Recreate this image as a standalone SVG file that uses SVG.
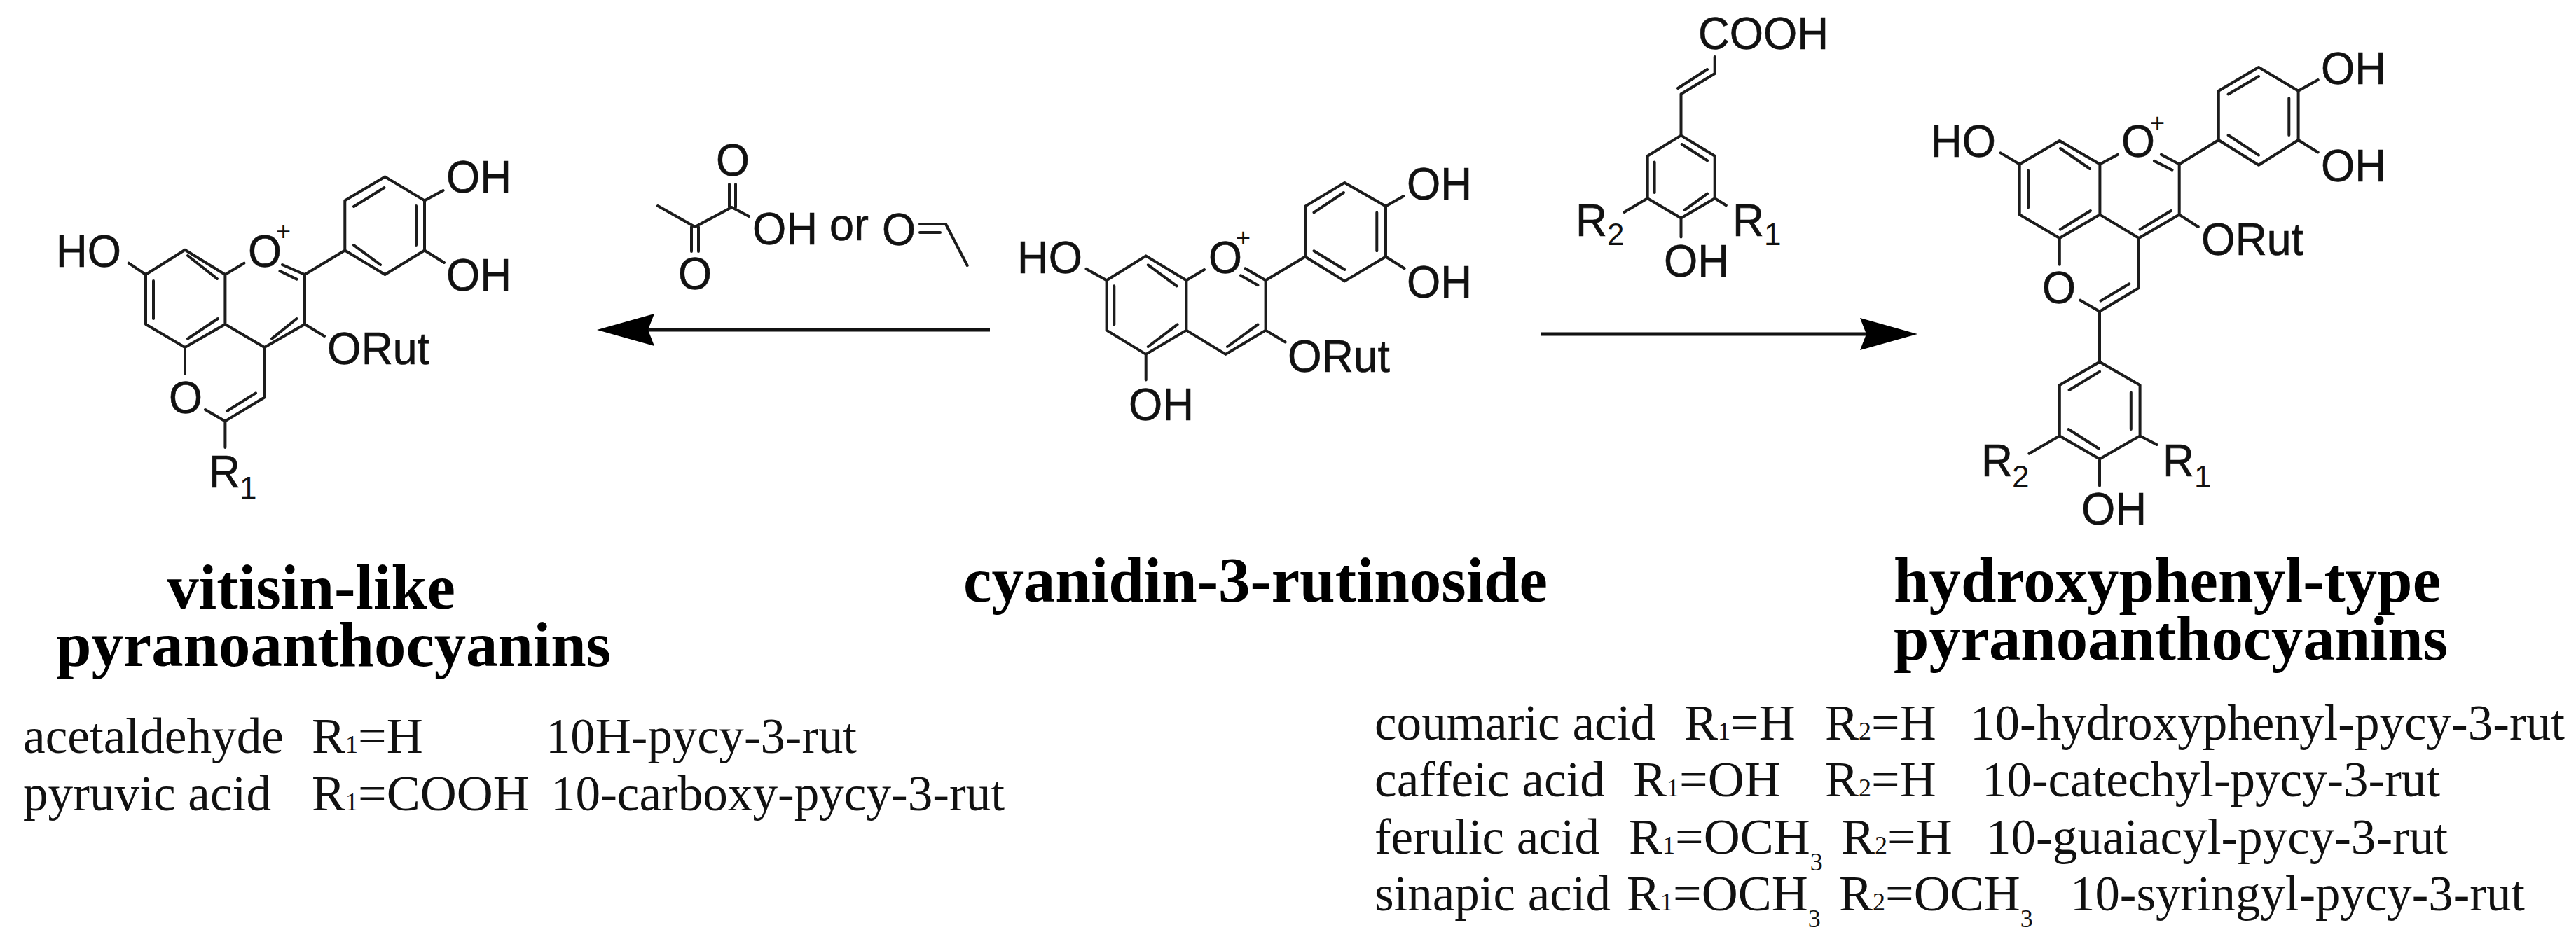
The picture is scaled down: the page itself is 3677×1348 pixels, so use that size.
<svg xmlns="http://www.w3.org/2000/svg" width="3677" height="1348" viewBox="0 0 3677 1348">
<style>
.b{fill:none;stroke:#1c1c1c;stroke-width:4;stroke-linecap:round;stroke-linejoin:round}
.s{font-family:"Liberation Sans",Arial,sans-serif;font-size:65px;fill:#111;stroke:#111;stroke-width:.6}
.n{font-family:"Liberation Sans",Arial,sans-serif;font-size:44px;fill:#111}
.p{font-family:"Liberation Sans",Arial,sans-serif;font-size:36px;fill:#111}
.t{font-family:"Liberation Serif","Times New Roman",serif;font-size:92px;font-weight:bold;fill:#000}
.l{font-family:"Liberation Serif","Times New Roman",serif;font-size:72px;fill:#111}
.i{font-size:36px}
.a{fill:none;stroke:#111;stroke-width:5}
</style>
<defs>
<marker id="head" viewBox="0 0 82 46" refX="9" refY="23" markerWidth="82" markerHeight="46" markerUnits="userSpaceOnUse" orient="auto"><path d="M0 0L82 23L0 46L9 23Z" fill="#000"/></marker>
</defs>
<rect width="3677" height="1348" fill="#fff"/>
<g id="connectors">
<line class="a" x1="1413" y1="471" x2="925" y2="471" marker-end="url(#head)"/>
<line class="a" x1="2200" y1="477" x2="2664" y2="477" marker-end="url(#head)"/>
</g>
<g id="vitisin-like">
<path class="b" d="M549.5 252.5L492.3 286.4V357.5L549.5 392L606 357.5V286.4ZM505 295L548.5 268M594 294V350M505 350L543 378M435 392L492.3 357.5M606 286.4L632.6 272M606 357.5L634 375M183.7 375.7L208 392V463L264 496L321.4 463V392L264 356.8L208 392M268 365L310 398M219 401V455M268 483.6L311 455M321.4 392L348.5 375.7M403 378L435 392V463L377.5 496L321.4 463M399.5 387L423.5 398.6M388 483.6L423.5 455M435 463L463 480M377.5 496V567.5L321.4 601.4L293 585M365 561.4L324 587M264 496V533.6M321.4 601.4V639"/>
<text class="s" x="80" y="381" textLength="93" lengthAdjust="spacingAndGlyphs">HO</text><text class="s" x="354" y="381" textLength="48" lengthAdjust="spacingAndGlyphs">O</text><text class="p" x="394" y="343">+</text>
<text class="s" x="637" y="275" textLength="93" lengthAdjust="spacingAndGlyphs">OH</text><text class="s" x="637" y="415" textLength="93" lengthAdjust="spacingAndGlyphs">OH</text><text class="s" x="467" y="520" textLength="146" lengthAdjust="spacingAndGlyphs">ORut</text><text class="s" x="241" y="590" textLength="48" lengthAdjust="spacingAndGlyphs">O</text>
<text class="s" x="298" y="696" textLength="45" lengthAdjust="spacingAndGlyphs">R</text><text class="n" x="342" y="712">1</text>
</g>
<g id="reagent-pyruvic">
<path class="b" d="M939 294L992 324L1044.5 296L1069 309M1041 263V296M1050 263V296M987 324V359M997 324V359M1313 320H1350L1380.7 379M1313 332H1342"/>
<text class="s" x="1022" y="251" textLength="48" lengthAdjust="spacingAndGlyphs">O</text><text class="s" x="968" y="413" textLength="48" lengthAdjust="spacingAndGlyphs">O</text><text class="s" x="1074" y="349" textLength="93" lengthAdjust="spacingAndGlyphs">OH</text><text class="s" x="1184" y="343" textLength="56" lengthAdjust="spacingAndGlyphs">or</text><text class="s" x="1259" y="350" textLength="48" lengthAdjust="spacingAndGlyphs">O</text>
</g>
<g id="cyanidin">
<path class="b" d="M1919.4 260.9L1863 294.6V366.5L1919.4 401.4L1978 366.5V294.6ZM1875.5 303.4L1918 275M1965.3 303.4V358.3M1875.5 358.3L1919.4 385M1806.6 400.3L1863 366.5M1978 294.6L2003.6 280M1978 366.5L2004.6 383.3M1550.5 383.9L1579.6 400.3V471.6L1635.7 505.9L1693.4 471.6V400.3L1635.7 365.4L1579.6 400.3M1638.8 378.3L1679.6 408.3M1590.3 408.3V463.4M1638.8 495L1680.6 463.4M1693.4 400.3L1719 385M1777.5 383.3L1806.6 400.3V471.6L1749.5 505.9L1693.4 471.6M1771 393.3L1795.4 407.3M1752 495L1795.4 463.4M1806.6 471.6L1834.7 488.5M1635.7 505.9V542.6"/>
<text class="s" x="1452" y="390" textLength="93" lengthAdjust="spacingAndGlyphs">HO</text><text class="s" x="1725" y="390" textLength="48" lengthAdjust="spacingAndGlyphs">O</text><text class="p" x="1764" y="352">+</text>
<text class="s" x="2008" y="285" textLength="93" lengthAdjust="spacingAndGlyphs">OH</text><text class="s" x="2008" y="425" textLength="93" lengthAdjust="spacingAndGlyphs">OH</text><text class="s" x="1838" y="531" textLength="146" lengthAdjust="spacingAndGlyphs">ORut</text><text class="s" x="1611" y="600" textLength="93" lengthAdjust="spacingAndGlyphs">OH</text>
</g>
<g id="reagent-cinnamic">
<path class="b" d="M2447.7 81V105L2399.5 134.3V193.4L2447.7 222.7V283.3L2399.5 311.5L2351.7 283.3V222.7L2399.5 193.4M2437 99L2395 126M2400.7 206L2437 229.3M2361.6 231.6V275M2404.5 300L2437 276.7M2351.7 283.3L2318.4 303M2447.7 283.3L2463.8 293.3M2399.5 311.5V338.4"/>
<text class="s" x="2424" y="70" textLength="186" lengthAdjust="spacingAndGlyphs">COOH</text><text class="s" x="2249" y="337" textLength="45" lengthAdjust="spacingAndGlyphs">R</text><text class="n" x="2294" y="350">2</text><text class="s" x="2473" y="337" textLength="45" lengthAdjust="spacingAndGlyphs">R</text><text class="n" x="2518" y="350">1</text><text class="s" x="2375" y="395" textLength="93" lengthAdjust="spacingAndGlyphs">OH</text>
</g>
<g id="hydroxyphenyl-type">
<path class="b" d="M3224 96L3166.8 129.8V200L3224 235.8L3280.6 200V129.8ZM3180.6 134.4L3224 109M3267.3 140.3V193M3180.6 193L3224 221.6M3110.7 234.5L3166.8 200M3280.6 129.8L3308.7 114M3280.6 200L3308.7 217.5M2855.6 218.4L2882.7 234.5V306.6L2939.8 340L2997.4 306.6V234.5L2939.8 201L2882.7 234.5M2941 212L2983 241M2895 243.6V296.5M2940.8 327.7L2984 301M2997.4 234.5L3023 220.7M3085 220.7L3110.7 234.5V306.6L3053 340L2997.4 306.6M3075 229.9L3100.5 242.7M3054.6 327.7L3099 301M3110.7 306.6L3137.8 324M3053 340V411L2997 444.8L2969.4 428.7M3039.3 405.3L2998.5 429.6M2939.8 340V377.7M2997 444.8V516.8L3054.6 550V622.4L2997 655.5L2939.8 622.4V550L2997 516.8M2953.6 557L2997 530.6M3041.8 560.4V613M2952.6 613L2996 640.8M2939.8 622.4L2896.4 647.7M3054.6 622.4L3078.6 635M2997 655.5V693.6"/>
<text class="s" x="2756" y="224" textLength="93" lengthAdjust="spacingAndGlyphs">HO</text><text class="s" x="3028" y="224" textLength="48" lengthAdjust="spacingAndGlyphs">O</text><text class="p" x="3069" y="188">+</text>
<text class="s" x="3313" y="120" textLength="93" lengthAdjust="spacingAndGlyphs">OH</text><text class="s" x="3313" y="259" textLength="93" lengthAdjust="spacingAndGlyphs">OH</text><text class="s" x="3142" y="364" textLength="146" lengthAdjust="spacingAndGlyphs">ORut</text><text class="s" x="2915" y="433" textLength="48" lengthAdjust="spacingAndGlyphs">O</text>
<text class="s" x="2828" y="680" textLength="45" lengthAdjust="spacingAndGlyphs">R</text><text class="n" x="2872" y="696">2</text><text class="s" x="3087" y="680" textLength="45" lengthAdjust="spacingAndGlyphs">R</text><text class="n" x="3132" y="696">1</text><text class="s" x="2971" y="749" textLength="93" lengthAdjust="spacingAndGlyphs">OH</text>
</g>
<g id="titles">
<text class="t" x="238" y="869" textLength="412" lengthAdjust="spacingAndGlyphs">vitisin-like</text>
<text class="t" x="80" y="951" textLength="792" lengthAdjust="spacingAndGlyphs">pyranoanthocyanins</text>
<text class="t" x="1375" y="859" textLength="834" lengthAdjust="spacingAndGlyphs">cyanidin-3-rutinoside</text>
<text class="t" x="2703" y="859" textLength="781" lengthAdjust="spacingAndGlyphs">hydroxyphenyl-type</text>
<text class="t" x="2703" y="942" textLength="791" lengthAdjust="spacingAndGlyphs">pyranoanthocyanins</text>
</g>
<g id="legend-left">
<text class="l" x="33" y="1075" textLength="372" lengthAdjust="spacingAndGlyphs">acetaldehyde</text>
<text class="l" x="445" y="1075">R<tspan class="i">1</tspan>=H</text>
<text class="l" x="779" y="1075" textLength="444" lengthAdjust="spacingAndGlyphs">10H-pycy-3-rut</text>
<text class="l" x="33" y="1157" textLength="354" lengthAdjust="spacingAndGlyphs">pyruvic acid</text>
<text class="l" x="445" y="1157">R<tspan class="i">1</tspan>=COOH</text>
<text class="l" x="786" y="1157" textLength="648" lengthAdjust="spacingAndGlyphs">10-carboxy-pycy-3-rut</text>
</g>
<g id="legend-right">
<text class="l" x="1962" y="1056" textLength="401" lengthAdjust="spacingAndGlyphs">coumaric acid</text>
<text class="l" x="2404" y="1056">R<tspan class="i">1</tspan>=H</text>
<text class="l" x="2605" y="1056">R<tspan class="i">2</tspan>=H</text>
<text class="l" x="2812" y="1056" textLength="849" lengthAdjust="spacingAndGlyphs">10-hydroxyphenyl-pycy-3-rut</text>
<text class="l" x="1962" y="1137" textLength="329" lengthAdjust="spacingAndGlyphs">caffeic acid</text>
<text class="l" x="2331" y="1137">R<tspan class="i">1</tspan>=OH</text>
<text class="l" x="2605" y="1137">R<tspan class="i">2</tspan>=H</text>
<text class="l" x="2829" y="1137" textLength="654" lengthAdjust="spacingAndGlyphs">10-catechyl-pycy-3-rut</text>
<text class="l" x="1962" y="1219" textLength="321" lengthAdjust="spacingAndGlyphs">ferulic acid</text>
<text class="l" x="2325" y="1219">R<tspan class="i">1</tspan>=OCH<tspan class="i" dy="24">3</tspan></text>
<text class="l" x="2628" y="1219">R<tspan class="i">2</tspan>=H</text>
<text class="l" x="2835" y="1219" textLength="659" lengthAdjust="spacingAndGlyphs">10-guaiacyl-pycy-3-rut</text>
<text class="l" x="1962" y="1300" textLength="337" lengthAdjust="spacingAndGlyphs">sinapic acid</text>
<text class="l" x="2322" y="1300">R<tspan class="i">1</tspan>=OCH<tspan class="i" dy="24">3</tspan></text>
<text class="l" x="2625" y="1300">R<tspan class="i">2</tspan>=OCH<tspan class="i" dy="24">3</tspan></text>
<text class="l" x="2955" y="1300" textLength="649" lengthAdjust="spacingAndGlyphs">10-syringyl-pycy-3-rut</text>
</g>
</svg>
